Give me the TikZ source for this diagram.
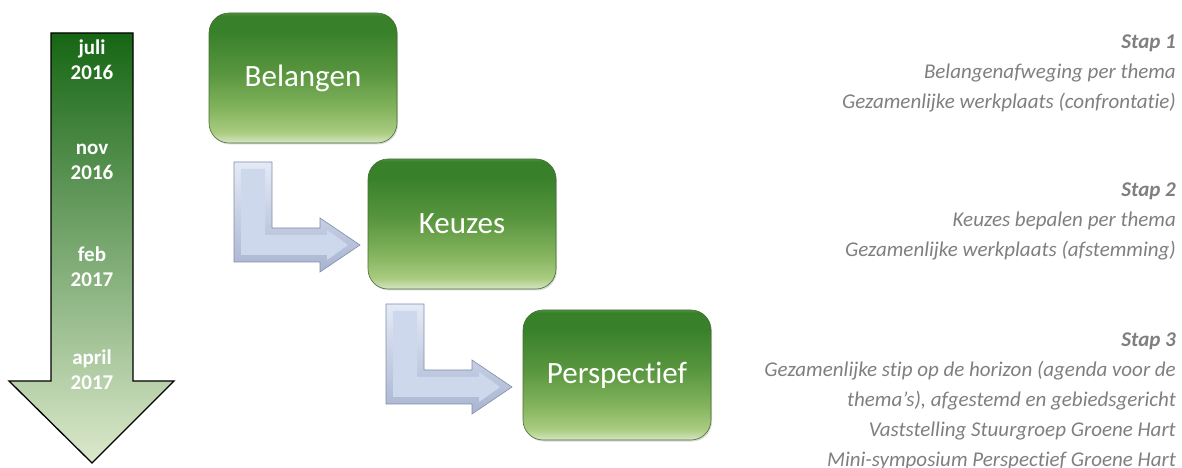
\documentclass[tikz,border=0pt]{standalone}
\usepackage{fontspec}
\setmainfont{Carlito}[RawFeature={-liga;-calt;-clig;-dlig}]
\usetikzlibrary{positioning,shadows}

\definecolor{stepgray}{RGB}{127,127,127}
\definecolor{arrowtop}{RGB}{22,102,20}
\definecolor{arrowbot}{RGB}{220,233,204}
\definecolor{bendfill}{RGB}{206,216,237}
\definecolor{bendlight}{RGB}{228,234,246}
\definecolor{bendside}{RGB}{168,180,208}
\definecolor{bendedge}{RGB}{128,140,170}
\definecolor{boxedge}{RGB}{70,110,55}
\definecolor{bxa}{RGB}{214,230,196}
\definecolor{bxb}{RGB}{170,204,128}
\definecolor{bxc}{RGB}{132,180,94}
\definecolor{bxd}{RGB}{88,150,62}
\definecolor{bxe}{RGB}{56,128,42}
\definecolor{bxf}{RGB}{78,146,64}

\pgfdeclareverticalshading{boxglow}{100bp}{color(0bp)=(bxa); color(25bp)=(bxa);
  color(29bp)=(bxb); color(38bp)=(bxc); color(52bp)=(bxd); color(68bp)=(bxe);
  color(74bp)=(bxe); color(75bp)=(bxf); color(100bp)=(bxf)}

\tikzset{
  stepbox/.style={shade, shading=boxglow, draw=boxedge, line width=0.6bp,
    rounded corners=20bp, minimum width=188bp, minimum height=130bp,
    text=white, font=\fontsize{31bp}{36bp}\selectfont,
    drop shadow={opacity=0.3, shadow xshift=1bp, shadow yshift=-1.5bp}},
  datelabel/.style={align=center, inner sep=0pt, text=white,
    font=\fontsize{21bp}{25bp}\selectfont\bfseries},
  stepnote/.style={align=right, anchor=north east, inner sep=0pt, text=stepgray,
    font=\fontsize{21bp}{30bp}\selectfont\itshape},
}

\begin{document}
\begin{tikzpicture}[x=1bp, y=-1bp]
\useasboundingbox (0,0) rectangle (1182,468);

% time line
\shade[top color=arrowtop, bottom color=arrowbot, draw=black, line width=1.3bp]
  (51,33) -- (133,33) -- (133,381) -- (174,381) -- (92,463) -- (9,381) -- (51,381) -- cycle;
\node[datelabel] (juli) at (92,60) {juli\\2016};
\node[datelabel] (nov) at (92,162) {nov\\2016};
\node[datelabel] (feb) at (92,267) {feb\\2017};
\node[datelabel] (april) at (92,370) {april\\2017};

% bent arrows between the steps
\foreach \dx/\dy in {0/0,152/142}{
  \begin{scope}[shift={(\dx,\dy)}]
    \shade[top color=bendlight, bottom color=bendside, draw=bendedge, line width=0.6bp]
      (234,162) -- (272,162) -- (272,228) -- (320,228) -- (320,218) -- (360,245)
      -- (320,272) -- (320,262) -- (234,262) -- cycle;
    \fill[bendfill] (241,169) -- (265,169) -- (265,235) -- (327,235) -- (327,230)
      -- (348,245) -- (327,260) -- (327,255) -- (241,255) -- cycle;
  \end{scope}
}

% steps
\node[stepbox] (belangen) at (303,78) {Belangen};
\node[stepbox] (keuzes) at (462,224) {Keuzes};
\node[stepbox] (perspectief) at (617,375) {Perspectief};

% notes
\node[stepnote] (stap1) at (1176,35) {\textbf{Stap 1}\\Belangenafweging per thema\\Gezamenlijke werkplaats (confrontatie)};
\node[stepnote] (stap2) at (1176,183) {\textbf{Stap 2}\\Keuzes bepalen per thema\\Gezamenlijke werkplaats (afstemming)};
\node[stepnote] (stap3) at (1176,333) {\textbf{Stap 3}\\Gezamenlijke stip op de horizon (agenda voor de\\thema’s), afgestemd en gebiedsgericht\\Vaststelling Stuurgroep Groene Hart\\Mini-symposium Perspectief Groene Hart};
\end{tikzpicture}
\end{document}
